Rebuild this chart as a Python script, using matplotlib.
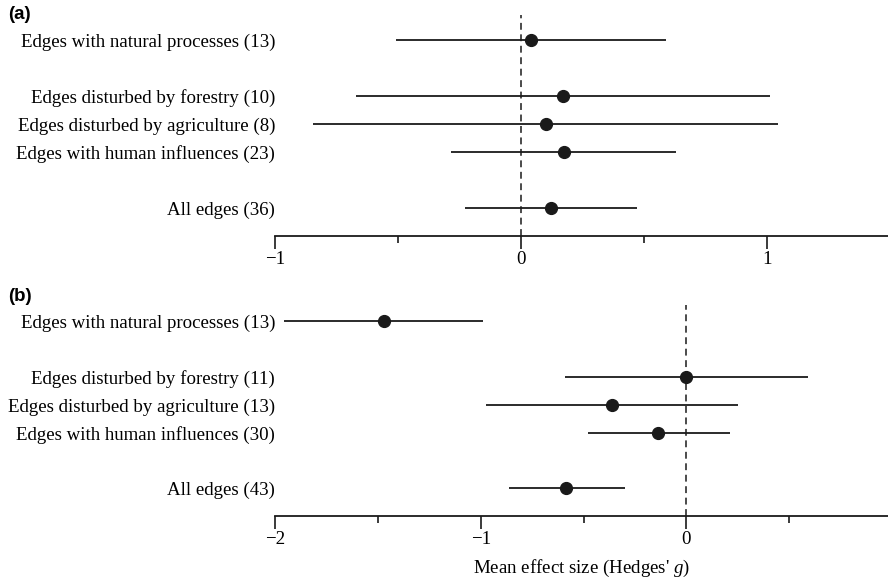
import numpy as np
import matplotlib.pyplot as plt

plt.rcParams['font.family'] = ['Liberation Serif', 'DejaVu Serif']
plt.rcParams['mathtext.fontset'] = 'custom'
plt.rcParams['mathtext.rm'] = 'Liberation Serif'
plt.rcParams['mathtext.it'] = 'Liberation Serif:italic'

# panel (a)
labels_a = ['Edges with natural processes (13)', 'Edges disturbed by forestry (10)',
            'Edges disturbed by agriculture (8)', 'Edges with human influences (23)',
            'All edges (36)']
mean_a = [0.04, 0.17, 0.10, 0.175, 0.12]
low_a = [-0.51, -0.67, -0.845, -0.285, -0.23]
high_a = [0.59, 1.01, 1.045, 0.63, 0.47]

# panel (b)
labels_b = ['Edges with natural processes (13)', 'Edges disturbed by forestry (11)',
            'Edges disturbed by agriculture (13)', 'Edges with human influences (30)',
            'All edges (43)']
mean_b = [-1.47, 0.0, -0.36, -0.137, -0.585]
low_b = [-1.955, -0.59, -0.975, -0.48, -0.863]
high_b = [-0.988, 0.59, 0.25, 0.21, -0.30]

rows = [7, 5, 4, 3, 1]
col = '#1a1a1a'
fs = 13.6


def forest(ax, labels, mean, low, high, xlim, major, minor, vtop):
    mean = np.array(mean)
    err = [mean - np.array(low), np.array(high) - mean]
    ax.vlines(0, 0, vtop, colors=col, linestyles=(0, (4.5, 3)), lw=1.1, zorder=1)
    ax.errorbar(mean, rows, xerr=err, fmt='o', color=col, ms=8.5, lw=1.3,
                capsize=0, zorder=3)
    ax.set_xlim(*xlim)
    ax.set_ylim(0, 8)
    ax.set_yticks(rows)
    ax.set_yticklabels(labels, fontsize=fs)
    ax.tick_params(axis='y', length=0, pad=0)
    ax.set_xticks(major)
    ax.set_xticklabels([f'{v:g}'.replace('-', '\u2212') for v in major], fontsize=fs)
    ax.set_xticks(minor, minor=True)
    ax.tick_params(axis='x', which='major', length=9, width=1.2, direction='out', pad=2,
                   color=col)
    ax.tick_params(axis='x', which='minor', length=5, width=1.2, direction='out', color=col)
    for s in ['left', 'right', 'top']:
        ax.spines[s].set_visible(False)
    ax.spines['bottom'].set_linewidth(1.3)
    ax.spines['bottom'].set_color(col)


fig = plt.figure(figsize=(8.88, 5.79), dpi=100)
ax1 = fig.add_axes([0.3097, 0.5924, 0.6903, 0.387])
ax2 = fig.add_axes([0.3097, 0.1088, 0.6903, 0.384])

forest(ax1, labels_a, mean_a, low_a, high_a, (-1, 1.49), [-1, 0, 1], [-0.5, 0.5], 7.9)
forest(ax2, labels_b, mean_b, low_b, high_b, (-2, 0.98), [-2, -1, 0], [-1.5, -0.5, 0.5], 7.6)

ax2.set_xlabel("Mean effect size (Hedges' $g$)", fontsize=fs, labelpad=7)

fig.text(0.009, 0.99, '(a)', fontsize=13.5, fontweight='bold',
         family='Liberation Sans', va='top')
fig.text(0.009, 0.503, '(b)', fontsize=13.5, fontweight='bold',
         family='Liberation Sans', va='top')

fig.savefig('out.png', dpi=100)
